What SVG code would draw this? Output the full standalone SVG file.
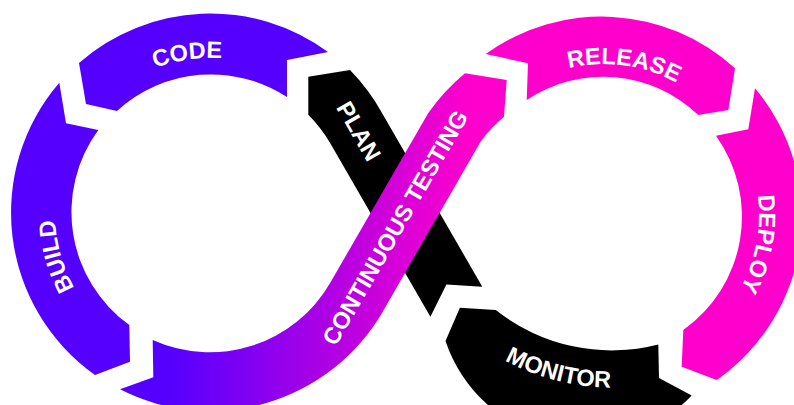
<svg xmlns="http://www.w3.org/2000/svg" width="794" height="405" viewBox="0 0 794 405">
<defs>
<linearGradient id="ctGrad" gradientUnits="userSpaceOnUse" x1="170" y1="0" x2="470" y2="0">
<stop offset="0" stop-color="#5500ff"/>
<stop offset="1" stop-color="#ff00cc"/>
</linearGradient>
<path id="pCode" d="M66.1,155.4 A155,155 0 0 1 331.8,117.1"/>
<path id="pBuild" d="M171.7,363.2 A155,155 0 0 1 99.1,104.7"/>
<path id="pRelease" d="M484.4,122.9 A151,151 0 0 1 743.6,157.5"/>
<path id="pDeploy" d="M704.7,97.2 A155,155 0 0 1 655.6,361.2"/>
<path id="pMonitor" d="M440.1,307.5 A224,224 0 0 0 692.7,372.3"/>
</defs>
<style>
.purple{fill:#5500ff}
.pink{fill:#ff00cc}
.black{fill:#000000}
.grad{fill:url(#ctGrad)}
.lbl{fill:#ffffff;font-family:"Liberation Sans",Arial,sans-serif;font-weight:bold;font-size:23.5px;text-anchor:middle}
</style>
<rect width="794" height="405" fill="#ffffff"/>
<g id="code">
<path class="purple" d="M328,52 A199,199 0 0 0 79,63 L86,104 L117,111 A139,139 0 0 1 287,97 L287,60 Z"/>
<text class="lbl"><textPath href="#pCode" startOffset="50%">CODE</textPath></text>
</g>
<g id="build">
<path class="purple" d="M59.3,82.7 A199,199 0 0 0 95,375 L130,361.7 L129.3,325 A139,139 0 0 1 98.3,130 L66,123.3 Z"/>
<text class="lbl"><textPath href="#pBuild" startOffset="50%">BUILD</textPath></text>
</g>
<g id="plan">
<path class="black" d="M350,70 A199,199 0 0 1 382.3,113.5 L482.3,286.7 L446.4,284.4 L430.4,316.7 L330.4,143.5 A139,139 0 0 0 308.3,114.7 L308.3,76.7 Z"/>
<text class="lbl" transform="translate(351.8,135.2) rotate(60)">PLAN</text>
</g>
<g id="continuous-testing">
<path class="grad" d="M120,389.3 A199,199 0 0 0 382.3,312.5 L481,141 A141,141 0 0 1 504,116.7 L506.7,80 L465,73.3 A201,201 0 0 0 428,113.4 L330.4,282.5 A139,139 0 0 1 152.7,340 L153.3,377.3 Z"/>
<text class="lbl" transform="translate(402.2,231.7) rotate(-60)">CONTINUOUS TESTING</text>
</g>
<g id="release">
<path class="pink" d="M485.7,54 A198,198 0 0 1 735,68.3 L728.3,110 L698.3,115 A137.5,137.5 0 0 0 526.7,100 L528,63.3 Z"/>
<text class="lbl"><textPath href="#pRelease" startOffset="50%">RELEASE</textPath></text>
</g>
<g id="deploy">
<path class="pink" d="M755,88.3 A199,199 0 0 1 716.7,380 L681.7,366.7 L683.3,330 A139,139 0 0 0 716,135.7 L748.3,129.3 Z"/>
<text class="lbl"><textPath href="#pDeploy" startOffset="50%">DEPLOY</textPath></text>
</g>
<g id="monitor">
<path class="black" d="M658.3,344.5 L659,378 L691.7,395.5 A147,147 0 0 1 445.5,341 L459.9,307.8 L495.8,310.1 A187,187 0 0 0 658.3,344.5 Z"/>
<text class="lbl"><textPath href="#pMonitor" startOffset="50%">MONITOR</textPath></text>
</g>
<g id="connectors"/>
</svg>
